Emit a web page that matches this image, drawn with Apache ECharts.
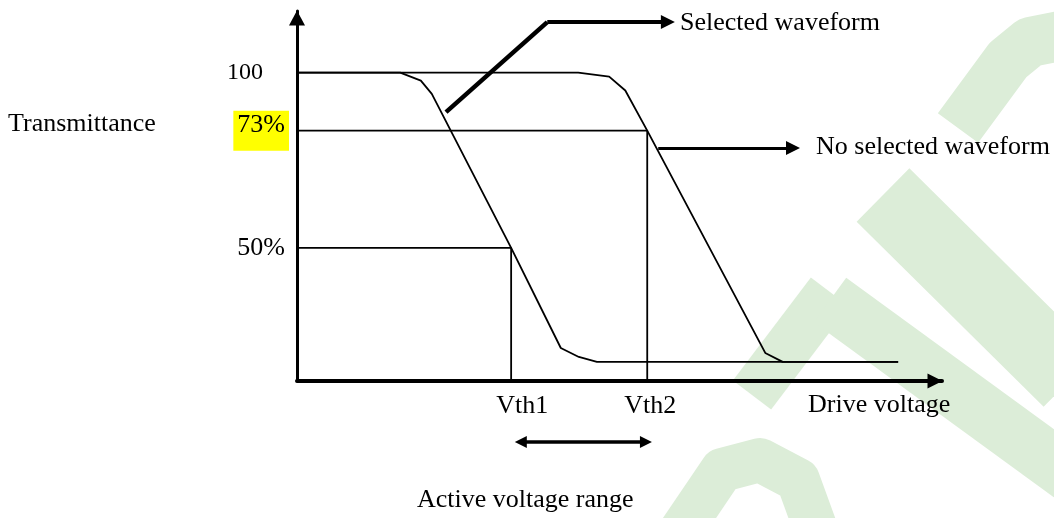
<!DOCTYPE html>
<html><head><meta charset="utf-8">
<script src="https://cdn.jsdelivr.net/npm/echarts@6/dist/echarts.min.js"></script>
<style>html,body{margin:0;padding:0;background:#fff}#c{width:1054px;height:518px}</style>
</head><body><div id="c"></div>
<script>
// ---- data (drive voltage in arbitrary units, transmittance in diagram units) ----
const selectedWave = [[0,100],[1.60,100],[1.92,97.4],[2.09,93.1],[3.32,43.2],[4.09,10.7],[4.37,7.8],[4.65,6.2],[9.32,6.2]];
const noSelectedWave = [[0,100],[4.36,100],[4.84,98.7],[5.09,94.2],[5.43,81.2],[7.26,9.1],[7.53,6.2],[9.32,6.2]];
const thresholdNames = ['Vth1','Vth2'];
const thresholdVoltages = [3.32, 5.43];
const levelLabels = ['100','73%','50%'];
const levelValues = [100, 81.2, 43.2];
const guide73 = [[0,81.2],[5.43,81.2],[5.43,0]];
const guide50 = [[0,43.2],[3.32,43.2],[3.32,0]];
const selPointerLeg = [[2.31,87.2],[3.88,116.4]];
const selPointerArrow = [[3.88,116.4],[5.75,116.4]];
const noSelPointer = [[5.60,75.6],[7.69,75.6]];
const activeRange = [[3.47,-19.8],[5.41,-19.8]];

const FONT = 'Liberation Serif';
const chart = echarts.init(document.getElementById('c'));

function lineSeries(data) {
  return {type:'line', data:data, symbol:'none', showSymbol:false, silent:true, z:3,
    lineStyle:{color:'#000', width:1.8}, animation:false};
}
function linesSeries(coords, width, symbol, size) {
  return {type:'lines', coordinateSystem:'cartesian2d', clip:false, silent:true, z:4,
    symbol:symbol, symbolSize:size, animation:false,
    lineStyle:{color:'#000', width:width, opacity:1, curveness:0},
    itemStyle:{color:'#000'},
    data:[{coords:coords}]};
}
const WM = '#dcedd8';
function wm(points, w) {
  return {type:'polyline', z:-100, silent:true, shape:{points:points},
    style:{stroke:WM, lineWidth:w, fill:null, lineJoin:'round'}};
}
function txt(text, x, y) {
  return {type:'text', x:x, y:y, z:100, silent:true,
    style:{text:text, fill:'#000', fontSize:26, fontFamily:FONT, verticalAlign:'middle', align:'left'}};
}

chart.setOption({
  animation:false,
  backgroundColor:'#fff',
  grid:{left:297, right:112, top:11, bottom:137, containLabel:false},
  xAxis:{type:'value', min:0, max:10,
    axisLine:{show:true, onZero:false, symbol:['none','triangle'], symbolSize:[15,15], symbolOffset:[0,-7],
      lineStyle:{color:'#000', width:4}},
    axisTick:{show:false}, splitLine:{show:false},
    axisLabel:{customValues:thresholdVoltages, margin:12, color:'#000', fontFamily:FONT, fontSize:26,
      formatter:function(v){
        for (let i=0;i<thresholdVoltages.length;i++) if (Math.abs(v-thresholdVoltages[i])<1e-6) return '{v'+i+'|'+thresholdNames[i]+'}';
        return '';
      },
      rich:{v0:{fontFamily:FONT, fontSize:26, color:'#000', padding:[0,0,0,22]},
            v1:{fontFamily:FONT, fontSize:26, color:'#000', padding:[0,0,0,6]}}}
  },
  yAxis:{type:'value', min:0, max:120,
    axisLine:{show:true, onZero:false, symbol:['none','triangle'], symbolSize:[16,15], symbolOffset:[0,-7],
      lineStyle:{color:'#000', width:3}},
    axisTick:{show:false}, splitLine:{show:false},
    axisLabel:{customValues:levelValues, margin:8, color:'#000', fontFamily:FONT, fontSize:26,
      formatter:function(v){
        for (let i=0;i<levelValues.length;i++) if (Math.abs(v-levelValues[i])<1e-6) return '{l'+i+'|'+levelLabels[i]+'}';
        return '';
      },
      rich:{l0:{fontFamily:FONT, fontSize:24, color:'#000', padding:[0,26,0,0]},
            l1:{fontFamily:FONT, fontSize:26, color:'#000', backgroundColor:'#ffff00', lineHeight:28, padding:[2,4,12,4]},
            l2:{fontFamily:FONT, fontSize:26, color:'#000', padding:[0,4,0,0]}}}
  },
  series:[
    lineSeries(guide73),
    lineSeries(guide50),
    lineSeries(selectedWave),
    lineSeries(noSelectedWave),
    linesSeries(selPointerLeg, 4.5, 'none', 1),
    linesSeries(selPointerArrow, 4, ['none','triangle'], 14),
    linesSeries(noSelPointer, 3, ['none','triangle'], 14),
    linesSeries(activeRange, 3.5, ['triangle','triangle'], 12)
  ],
  graphic:[
    wm([[958,128],[1008,60],[1030,42],[1060,36]], 50),
    wm([[883,195],[1070,380]], 75),
    wm([[752,395],[830,292]], 48),
    wm([[830,300],[1070,475]], 55),
    wm([[678,535],[722,470],[760,460],[798,480],[818,535]], 44),
    txt('Transmittance', 8, 124),
    txt('Selected waveform', 680, 23),
    txt('No selected waveform', 816, 147),
    txt('Drive voltage', 808, 405),
    txt('Active voltage range', 417, 500)
  ]
});
</script></body></html>
